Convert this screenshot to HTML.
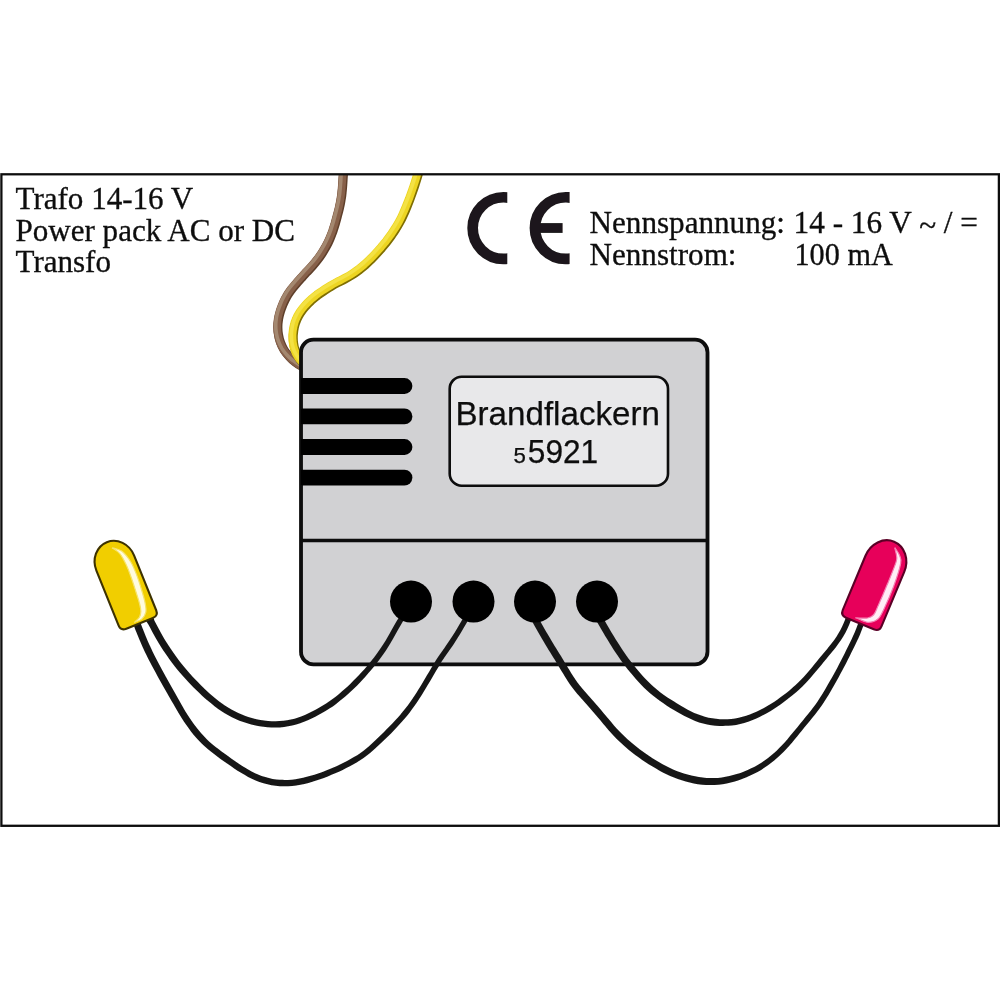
<!DOCTYPE html>
<html><head><meta charset="utf-8">
<style>
html,body{margin:0;padding:0;background:#fff;}
body{width:1000px;height:1000px;overflow:hidden;font-family:"Liberation Sans",sans-serif;}
svg{display:block;position:absolute;left:0;top:0;}
.serif{font-family:"Liberation Serif",serif;font-size:30.5px;fill:#0c0c0c;stroke:#0c0c0c;stroke-width:0.3px;}
.sans{font-family:"Liberation Sans",sans-serif;fill:#0c0c0c;stroke:#0c0c0c;stroke-width:0.25px;}
</style></head><body>
<svg width="1000" height="1000" viewBox="0 0 1000 1000">
<defs>
  <clipPath id="frameclip"><rect x="1" y="174" width="998" height="652"/></clipPath>
  <clipPath id="cclip"><rect x="460" y="185" width="47.3" height="90"/></clipPath>
  <clipPath id="eclip"><rect x="522" y="185" width="47.6" height="90"/></clipPath>
  <filter id="soft" filterUnits="userSpaceOnUse" x="0" y="0" width="1000" height="1000"><feGaussianBlur stdDeviation="0.45"/></filter>
</defs>
<rect width="1000" height="1000" fill="#ffffff"/>

<!-- frame -->


<!-- supply wires -->
<g clip-path="url(#frameclip)" fill="none" stroke-linecap="butt" filter="url(#soft)">
  <path d="M343.5 168.0 C343.3 169.3 342.8 173.3 342.5 176.0 C342.3 178.6 342.2 181.3 342.0 184.0 C341.8 186.7 341.6 189.3 341.3 192.0 C341.1 194.7 340.7 197.3 340.2 199.9 C339.8 202.6 339.2 205.2 338.6 207.8 C338.0 210.4 337.3 213.0 336.6 215.6 C335.9 218.2 335.2 220.8 334.5 223.3 C333.7 225.9 332.9 228.5 332.1 231.0 C331.2 233.5 330.2 236.0 329.1 238.5 C328.1 240.9 326.9 243.3 325.6 245.7 C324.3 248.0 323.0 250.3 321.5 252.6 C320.1 254.8 318.6 257.0 316.9 259.2 C315.3 261.3 313.6 263.3 311.8 265.3 C310.0 267.3 308.2 269.3 306.4 271.2 C304.6 273.2 302.7 275.2 301.0 277.2 C299.2 279.2 297.3 281.2 295.6 283.2 C293.9 285.2 292.1 287.2 290.5 289.4 C288.9 291.5 287.4 293.7 286.1 296.0 C284.7 298.3 283.6 300.8 282.5 303.2 C281.5 305.7 280.5 308.2 279.7 310.7 C279.0 313.3 278.2 315.9 277.8 318.5 C277.4 321.1 277.1 323.8 277.1 326.5 C277.1 329.1 277.3 331.8 277.8 334.4 C278.2 337.0 278.9 339.7 279.8 342.1 C280.7 344.6 281.9 347.0 283.2 349.3 C284.6 351.5 286.3 353.7 288.1 355.6 C289.9 357.6 291.8 359.5 293.9 361.1 C296.0 362.8 298.5 364.3 300.6 365.5 C302.6 366.6 305.1 367.6 306.0 368.0" stroke="#5f3f2b" stroke-width="9" transform="translate(0.8 0.6)"/>
  <path d="M343.5 168.0 C343.3 169.3 342.8 173.3 342.5 176.0 C342.3 178.6 342.2 181.3 342.0 184.0 C341.8 186.7 341.6 189.3 341.3 192.0 C341.1 194.7 340.7 197.3 340.2 199.9 C339.8 202.6 339.2 205.2 338.6 207.8 C338.0 210.4 337.3 213.0 336.6 215.6 C335.9 218.2 335.2 220.8 334.5 223.3 C333.7 225.9 332.9 228.5 332.1 231.0 C331.2 233.5 330.2 236.0 329.1 238.5 C328.1 240.9 326.9 243.3 325.6 245.7 C324.3 248.0 323.0 250.3 321.5 252.6 C320.1 254.8 318.6 257.0 316.9 259.2 C315.3 261.3 313.6 263.3 311.8 265.3 C310.0 267.3 308.2 269.3 306.4 271.2 C304.6 273.2 302.7 275.2 301.0 277.2 C299.2 279.2 297.3 281.2 295.6 283.2 C293.9 285.2 292.1 287.2 290.5 289.4 C288.9 291.5 287.4 293.7 286.1 296.0 C284.7 298.3 283.6 300.8 282.5 303.2 C281.5 305.7 280.5 308.2 279.7 310.7 C279.0 313.3 278.2 315.9 277.8 318.5 C277.4 321.1 277.1 323.8 277.1 326.5 C277.1 329.1 277.3 331.8 277.8 334.4 C278.2 337.0 278.9 339.7 279.8 342.1 C280.7 344.6 281.9 347.0 283.2 349.3 C284.6 351.5 286.3 353.7 288.1 355.6 C289.9 357.6 291.8 359.5 293.9 361.1 C296.0 362.8 298.5 364.3 300.6 365.5 C302.6 366.6 305.1 367.6 306.0 368.0" stroke="#87604a" stroke-width="7.8"/>
  <path d="M343.5 168.0 C343.3 169.3 342.8 173.3 342.5 176.0 C342.3 178.6 342.2 181.3 342.0 184.0 C341.8 186.7 341.6 189.3 341.3 192.0 C341.1 194.7 340.7 197.3 340.2 199.9 C339.8 202.6 339.2 205.2 338.6 207.8 C338.0 210.4 337.3 213.0 336.6 215.6 C335.9 218.2 335.2 220.8 334.5 223.3 C333.7 225.9 332.9 228.5 332.1 231.0 C331.2 233.5 330.2 236.0 329.1 238.5 C328.1 240.9 326.9 243.3 325.6 245.7 C324.3 248.0 323.0 250.3 321.5 252.6 C320.1 254.8 318.6 257.0 316.9 259.2 C315.3 261.3 313.6 263.3 311.8 265.3 C310.0 267.3 308.2 269.3 306.4 271.2 C304.6 273.2 302.7 275.2 301.0 277.2 C299.2 279.2 297.3 281.2 295.6 283.2 C293.9 285.2 292.1 287.2 290.5 289.4 C288.9 291.5 287.4 293.7 286.1 296.0 C284.7 298.3 283.6 300.8 282.5 303.2 C281.5 305.7 280.5 308.2 279.7 310.7 C279.0 313.3 278.2 315.9 277.8 318.5 C277.4 321.1 277.1 323.8 277.1 326.5 C277.1 329.1 277.3 331.8 277.8 334.4 C278.2 337.0 278.9 339.7 279.8 342.1 C280.7 344.6 281.9 347.0 283.2 349.3 C284.6 351.5 286.3 353.7 288.1 355.6 C289.9 357.6 291.8 359.5 293.9 361.1 C296.0 362.8 298.5 364.3 300.6 365.5 C302.6 366.6 305.1 367.6 306.0 368.0" stroke="#a48870" stroke-width="3.6" transform="translate(-1.4 -0.9)"/>
  <path d="M419.0 168.0 C418.6 169.3 417.5 173.2 416.7 175.7 C416.0 178.3 415.1 180.9 414.3 183.4 C413.5 186.0 412.6 188.5 411.7 191.0 C410.8 193.6 409.9 196.1 409.0 198.6 C408.0 201.1 407.0 203.6 406.0 206.1 C405.0 208.6 404.0 211.1 402.8 213.5 C401.7 216.0 400.6 218.4 399.3 220.7 C398.0 223.1 396.7 225.4 395.2 227.7 C393.8 230.0 392.3 232.2 390.8 234.4 C389.2 236.6 387.6 238.8 386.0 240.9 C384.3 243.0 382.6 245.0 380.9 247.1 C379.1 249.1 377.3 251.1 375.5 253.1 C373.7 255.1 371.9 257.0 370.0 258.9 C368.0 260.8 366.1 262.6 364.1 264.4 C362.0 266.2 359.9 267.8 357.8 269.5 C355.7 271.1 353.5 272.7 351.2 274.1 C349.0 275.5 346.6 276.8 344.2 278.1 C341.9 279.4 339.4 280.5 337.1 281.7 C334.7 283.0 332.4 284.3 330.0 285.7 C327.7 287.0 325.5 288.5 323.2 290.0 C321.0 291.4 318.7 292.9 316.6 294.5 C314.5 296.2 312.4 297.8 310.4 299.7 C308.4 301.5 306.5 303.4 304.8 305.4 C303.0 307.4 301.3 309.5 299.8 311.7 C298.4 313.9 297.0 316.3 296.0 318.7 C294.9 321.1 294.1 323.7 293.5 326.3 C292.9 328.9 292.6 331.6 292.4 334.2 C292.3 336.9 292.4 339.6 292.7 342.2 C293.0 344.9 293.6 347.5 294.5 350.0 C295.3 352.5 296.5 354.9 298.0 357.1 C299.4 359.3 301.8 361.7 303.1 363.2 C304.4 364.7 305.5 365.5 306.0 366.0" stroke="#7f6e04" stroke-width="9" transform="translate(0.9 0.9)"/>
  <path d="M419.0 168.0 C418.6 169.3 417.5 173.2 416.7 175.7 C416.0 178.3 415.1 180.9 414.3 183.4 C413.5 186.0 412.6 188.5 411.7 191.0 C410.8 193.6 409.9 196.1 409.0 198.6 C408.0 201.1 407.0 203.6 406.0 206.1 C405.0 208.6 404.0 211.1 402.8 213.5 C401.7 216.0 400.6 218.4 399.3 220.7 C398.0 223.1 396.7 225.4 395.2 227.7 C393.8 230.0 392.3 232.2 390.8 234.4 C389.2 236.6 387.6 238.8 386.0 240.9 C384.3 243.0 382.6 245.0 380.9 247.1 C379.1 249.1 377.3 251.1 375.5 253.1 C373.7 255.1 371.9 257.0 370.0 258.9 C368.0 260.8 366.1 262.6 364.1 264.4 C362.0 266.2 359.9 267.8 357.8 269.5 C355.7 271.1 353.5 272.7 351.2 274.1 C349.0 275.5 346.6 276.8 344.2 278.1 C341.9 279.4 339.4 280.5 337.1 281.7 C334.7 283.0 332.4 284.3 330.0 285.7 C327.7 287.0 325.5 288.5 323.2 290.0 C321.0 291.4 318.7 292.9 316.6 294.5 C314.5 296.2 312.4 297.8 310.4 299.7 C308.4 301.5 306.5 303.4 304.8 305.4 C303.0 307.4 301.3 309.5 299.8 311.7 C298.4 313.9 297.0 316.3 296.0 318.7 C294.9 321.1 294.1 323.7 293.5 326.3 C292.9 328.9 292.6 331.6 292.4 334.2 C292.3 336.9 292.4 339.6 292.7 342.2 C293.0 344.9 293.6 347.5 294.5 350.0 C295.3 352.5 296.5 354.9 298.0 357.1 C299.4 359.3 301.8 361.7 303.1 363.2 C304.4 364.7 305.5 365.5 306.0 366.0" stroke="#edd524" stroke-width="8"/>
  <path d="M419.0 168.0 C418.6 169.3 417.5 173.2 416.7 175.7 C416.0 178.3 415.1 180.9 414.3 183.4 C413.5 186.0 412.6 188.5 411.7 191.0 C410.8 193.6 409.9 196.1 409.0 198.6 C408.0 201.1 407.0 203.6 406.0 206.1 C405.0 208.6 404.0 211.1 402.8 213.5 C401.7 216.0 400.6 218.4 399.3 220.7 C398.0 223.1 396.7 225.4 395.2 227.7 C393.8 230.0 392.3 232.2 390.8 234.4 C389.2 236.6 387.6 238.8 386.0 240.9 C384.3 243.0 382.6 245.0 380.9 247.1 C379.1 249.1 377.3 251.1 375.5 253.1 C373.7 255.1 371.9 257.0 370.0 258.9 C368.0 260.8 366.1 262.6 364.1 264.4 C362.0 266.2 359.9 267.8 357.8 269.5 C355.7 271.1 353.5 272.7 351.2 274.1 C349.0 275.5 346.6 276.8 344.2 278.1 C341.9 279.4 339.4 280.5 337.1 281.7 C334.7 283.0 332.4 284.3 330.0 285.7 C327.7 287.0 325.5 288.5 323.2 290.0 C321.0 291.4 318.7 292.9 316.6 294.5 C314.5 296.2 312.4 297.8 310.4 299.7 C308.4 301.5 306.5 303.4 304.8 305.4 C303.0 307.4 301.3 309.5 299.8 311.7 C298.4 313.9 297.0 316.3 296.0 318.7 C294.9 321.1 294.1 323.7 293.5 326.3 C292.9 328.9 292.6 331.6 292.4 334.2 C292.3 336.9 292.4 339.6 292.7 342.2 C293.0 344.9 293.6 347.5 294.5 350.0 C295.3 352.5 296.5 354.9 298.0 357.1 C299.4 359.3 301.8 361.7 303.1 363.2 C304.4 364.7 305.5 365.5 306.0 366.0" stroke="#f4e244" stroke-width="3.6" transform="translate(-1 -1.1)"/>
</g>
<rect x="1.4" y="174.3" width="997.5" height="651.5" fill="none" stroke="#111" stroke-width="2.3" filter="url(#soft)"/>

<!-- module box -->
<g filter="url(#soft)">
<rect x="301" y="339.7" width="406.5" height="324.6" rx="12.5" ry="12.5" fill="#d1d1d3" stroke="#0a0a0a" stroke-width="3.8"/>
<line x1="301" y1="540.5" x2="707.5" y2="540.5" stroke="#0a0a0a" stroke-width="3.6"/>
<!-- vents -->
<g fill="#050505">
  <path d="M301 378.1 H404.5 a7.9 7.9 0 0 1 0 15.8 H301 Z"/>
  <path d="M301 408.5 H404.5 a7.9 7.9 0 0 1 0 15.8 H301 Z"/>
  <path d="M301 439.1 H404.5 a7.9 7.9 0 0 1 0 15.8 H301 Z"/>
  <path d="M301 469.7 H404.5 a7.9 7.9 0 0 1 0 15.8 H301 Z"/>
</g>
<!-- label -->
<rect x="449.7" y="376.7" width="218.3" height="109" rx="12" ry="12" fill="#e8e8ea" stroke="#0a0a0a" stroke-width="2.6"/>
</g>
<g filter="url(#soft)">
<text class="sans" x="557.7" y="424.5" font-size="34" text-anchor="middle" textLength="204.5" lengthAdjust="spacingAndGlyphs">Brandflackern</text>
<text class="sans" x="513.6" y="462.5" font-size="22.3">5</text>
<text class="sans" x="527.8" y="462.9" font-size="34" textLength="70.4" lengthAdjust="spacingAndGlyphs">5921</text>
</g>

<!-- LED wires -->
<g fill="#171717" stroke="none" filter="url(#soft)">
  <path d="M410.82 599.99 C410.06 601.08 407.75 604.36 406.22 606.57 C404.70 608.78 403.16 610.98 401.67 613.24 C400.19 615.49 398.71 617.77 397.31 620.08 C395.91 622.38 394.59 624.75 393.27 627.08 C391.94 629.42 390.70 631.77 389.38 634.08 C388.06 636.38 386.74 638.66 385.37 640.91 C383.99 643.16 382.57 645.38 381.10 647.57 C379.64 649.76 378.14 651.92 376.59 654.05 C375.04 656.17 373.44 658.27 371.81 660.33 C370.17 662.39 368.49 664.42 366.77 666.42 C365.05 668.42 363.30 670.40 361.51 672.34 C359.73 674.29 357.92 676.22 356.08 678.12 C354.24 680.01 352.38 681.89 350.48 683.72 C348.59 685.55 346.67 687.36 344.71 689.12 C342.75 690.87 340.76 692.60 338.74 694.26 C336.71 695.92 334.65 697.55 332.55 699.10 C330.45 700.65 328.31 702.14 326.12 703.56 C323.93 704.98 321.70 706.32 319.43 707.61 C317.16 708.91 314.84 710.14 312.50 711.31 C310.17 712.48 307.80 713.62 305.42 714.64 C303.04 715.67 300.64 716.65 298.21 717.47 C295.78 718.29 293.33 719.01 290.84 719.57 C288.36 720.13 285.84 720.56 283.31 720.85 C280.79 721.14 278.24 721.30 275.70 721.32 C273.15 721.33 270.59 721.18 268.04 720.94 C265.48 720.71 262.90 720.35 260.37 719.91 C257.83 719.47 255.29 718.95 252.81 718.30 C250.32 717.66 247.87 716.90 245.45 716.03 C243.04 715.16 240.65 714.18 238.32 713.10 C235.98 712.03 233.68 710.86 231.44 709.60 C229.20 708.33 227.01 706.96 224.87 705.52 C222.73 704.07 220.64 702.52 218.58 700.92 C216.53 699.33 214.51 697.65 212.51 695.95 C210.52 694.24 208.55 692.49 206.62 690.71 C204.68 688.92 202.77 687.10 200.90 685.26 C199.02 683.41 197.17 681.53 195.36 679.62 C193.55 677.71 191.76 675.78 190.01 673.81 C188.26 671.84 186.54 669.85 184.86 667.82 C183.18 665.80 181.54 663.74 179.93 661.66 C178.32 659.58 176.75 657.47 175.21 655.33 C173.68 653.20 172.17 651.03 170.71 648.85 C169.25 646.66 167.81 644.45 166.43 642.22 C165.04 639.99 163.70 637.73 162.40 635.44 C161.09 633.16 159.85 630.83 158.59 628.50 C157.34 626.16 156.12 623.80 154.88 621.44 C153.65 619.08 152.87 614.96 151.19 614.33 C149.51 613.70 145.25 615.93 144.81 617.67 C144.37 619.41 147.29 622.40 148.55 624.77 C149.80 627.14 151.04 629.51 152.33 631.88 C153.62 634.25 154.91 636.63 156.26 638.97 C157.62 641.31 159.02 643.65 160.46 645.94 C161.90 648.24 163.39 650.51 164.91 652.75 C166.43 655.00 167.99 657.22 169.58 659.41 C171.17 661.60 172.80 663.77 174.47 665.90 C176.14 668.04 177.85 670.15 179.59 672.22 C181.33 674.30 183.11 676.34 184.92 678.36 C186.73 680.37 188.58 682.36 190.45 684.31 C192.33 686.26 194.24 688.19 196.18 690.08 C198.12 691.97 200.09 693.83 202.09 695.65 C204.09 697.48 206.12 699.27 208.20 701.03 C210.28 702.78 212.38 704.51 214.54 706.17 C216.71 707.83 218.92 709.46 221.20 710.98 C223.49 712.51 225.84 713.96 228.24 715.30 C230.64 716.64 233.11 717.88 235.62 719.02 C238.13 720.15 240.69 721.20 243.29 722.11 C245.89 723.03 248.54 723.84 251.21 724.52 C253.88 725.20 256.58 725.74 259.30 726.19 C262.01 726.65 264.74 727.01 267.48 727.25 C270.22 727.48 272.99 727.64 275.75 727.61 C278.51 727.58 281.30 727.39 284.05 727.06 C286.79 726.73 289.54 726.24 292.23 725.62 C294.93 725.00 297.60 724.20 300.20 723.31 C302.80 722.42 305.35 721.36 307.86 720.26 C310.36 719.17 312.81 717.97 315.24 716.74 C317.67 715.51 320.07 714.22 322.43 712.86 C324.79 711.50 327.12 710.08 329.40 708.58 C331.68 707.09 333.92 705.51 336.10 703.89 C338.28 702.26 340.41 700.56 342.51 698.83 C344.60 697.09 346.64 695.30 348.65 693.48 C350.65 691.66 352.62 689.80 354.55 687.90 C356.48 686.01 358.38 684.09 360.25 682.14 C362.12 680.19 363.96 678.22 365.77 676.22 C367.58 674.21 369.37 672.19 371.12 670.12 C372.87 668.06 374.59 665.97 376.26 663.84 C377.93 661.71 379.57 659.55 381.15 657.35 C382.73 655.15 384.27 652.92 385.76 650.66 C387.25 648.40 388.70 646.11 390.10 643.80 C391.50 641.49 392.85 639.14 394.17 636.80 C395.49 634.46 396.73 632.08 398.03 629.76 C399.33 627.44 400.60 625.14 401.96 622.88 C403.31 620.62 404.73 618.40 406.17 616.19 C407.62 613.97 409.12 611.79 410.63 609.59 C412.13 607.40 414.42 604.11 415.18 603.01 Z"/>
  <path d="M473.73 600.64 C473.04 601.78 470.97 605.21 469.59 607.50 C468.21 609.79 466.83 612.08 465.45 614.37 C464.08 616.67 462.70 618.96 461.33 621.25 C459.96 623.55 458.60 625.85 457.23 628.13 C455.86 630.41 454.50 632.70 453.10 634.94 C451.69 637.18 450.27 639.40 448.80 641.60 C447.32 643.80 445.78 645.94 444.25 648.13 C442.72 650.32 441.13 652.49 439.62 654.71 C438.10 656.94 436.61 659.21 435.17 661.49 C433.74 663.78 432.38 666.11 431.01 668.42 C429.64 670.73 428.32 673.05 426.96 675.35 C425.60 677.64 424.25 679.93 422.87 682.21 C421.50 684.49 420.13 686.77 418.73 689.03 C417.33 691.29 415.94 693.54 414.49 695.75 C413.05 697.96 411.59 700.14 410.06 702.28 C408.54 704.42 406.96 706.52 405.34 708.58 C403.72 710.65 402.03 712.67 400.32 714.67 C398.61 716.67 396.84 718.64 395.06 720.59 C393.28 722.54 391.47 724.46 389.62 726.36 C387.78 728.26 385.91 730.13 384.02 731.99 C382.13 733.85 380.21 735.69 378.29 737.52 C376.37 739.35 374.44 741.18 372.49 742.96 C370.54 744.73 368.60 746.50 366.60 748.16 C364.59 749.81 362.56 751.41 360.44 752.90 C358.33 754.39 356.15 755.78 353.92 757.12 C351.69 758.46 349.39 759.71 347.07 760.93 C344.75 762.16 342.39 763.33 340.02 764.46 C337.64 765.59 335.24 766.67 332.82 767.71 C330.40 768.75 327.96 769.74 325.51 770.69 C323.05 771.64 320.58 772.56 318.09 773.42 C315.61 774.28 313.11 775.11 310.61 775.85 C308.11 776.59 305.61 777.30 303.09 777.86 C300.57 778.43 298.03 778.91 295.49 779.25 C292.95 779.60 290.39 779.84 287.84 779.94 C285.29 780.04 282.73 780.03 280.20 779.86 C277.67 779.69 275.14 779.37 272.65 778.91 C270.15 778.46 267.67 777.86 265.24 777.12 C262.81 776.39 260.41 775.52 258.06 774.53 C255.71 773.53 253.41 772.39 251.13 771.18 C248.85 769.96 246.62 768.62 244.39 767.25 C242.17 765.88 239.97 764.42 237.77 762.96 C235.58 761.49 233.39 759.99 231.22 758.47 C229.05 756.95 226.89 755.42 224.76 753.85 C222.63 752.29 220.50 750.71 218.43 749.09 C216.35 747.48 214.27 745.86 212.29 744.18 C210.30 742.49 208.36 740.79 206.52 738.99 C204.67 737.18 202.91 735.31 201.21 733.36 C199.51 731.42 197.89 729.38 196.31 727.31 C194.72 725.25 193.19 723.11 191.70 720.96 C190.21 718.81 188.77 716.62 187.36 714.40 C185.96 712.18 184.61 709.92 183.28 707.64 C181.94 705.36 180.65 703.04 179.34 700.72 C178.03 698.41 176.72 696.07 175.41 693.74 C174.09 691.41 172.77 689.09 171.45 686.77 C170.14 684.44 168.82 682.13 167.52 679.80 C166.22 677.48 164.93 675.15 163.66 672.82 C162.38 670.48 161.12 668.14 159.87 665.80 C158.62 663.45 157.38 661.11 156.18 658.75 C154.97 656.39 153.79 654.03 152.64 651.65 C151.49 649.27 150.38 646.88 149.30 644.47 C148.22 642.06 147.17 639.64 146.14 637.20 C145.12 634.76 144.13 632.32 143.17 629.86 C142.21 627.39 141.18 624.60 140.38 622.42 C139.59 620.25 139.85 617.33 138.39 616.79 C136.93 616.25 132.40 617.86 131.61 619.21 C130.82 620.56 132.84 622.69 133.66 624.90 C134.47 627.11 135.53 629.95 136.52 632.46 C137.51 634.97 138.54 637.48 139.59 639.96 C140.65 642.45 141.73 644.93 142.84 647.39 C143.96 649.84 145.11 652.29 146.29 654.72 C147.48 657.15 148.70 659.56 149.93 661.95 C151.17 664.35 152.43 666.72 153.70 669.09 C154.97 671.46 156.26 673.82 157.55 676.17 C158.85 678.52 160.16 680.86 161.48 683.19 C162.79 685.53 164.13 687.85 165.45 690.18 C166.78 692.50 168.11 694.81 169.43 697.13 C170.75 699.45 172.06 701.78 173.39 704.11 C174.72 706.43 176.03 708.78 177.40 711.10 C178.78 713.42 180.18 715.75 181.64 718.04 C183.09 720.33 184.60 722.59 186.16 724.82 C187.72 727.05 189.31 729.26 190.98 731.42 C192.65 733.58 194.37 735.72 196.18 737.78 C198.00 739.84 199.90 741.85 201.87 743.76 C203.84 745.67 205.92 747.49 208.00 749.24 C210.09 751.00 212.24 752.67 214.39 754.32 C216.53 755.97 218.70 757.58 220.88 759.16 C223.06 760.75 225.26 762.30 227.48 763.84 C229.69 765.38 231.91 766.90 234.17 768.39 C236.42 769.88 238.68 771.37 241.00 772.78 C243.33 774.20 245.68 775.61 248.11 776.88 C250.54 778.16 253.03 779.39 255.58 780.45 C258.13 781.52 260.75 782.47 263.41 783.26 C266.06 784.04 268.78 784.69 271.51 785.18 C274.24 785.67 277.02 786.00 279.78 786.18 C282.55 786.36 285.34 786.36 288.10 786.24 C290.86 786.13 293.62 785.85 296.35 785.47 C299.08 785.09 301.79 784.57 304.47 783.96 C307.14 783.35 309.78 782.60 312.39 781.81 C315.00 781.03 317.57 780.16 320.13 779.26 C322.69 778.37 325.22 777.42 327.75 776.43 C330.27 775.44 332.77 774.41 335.25 773.33 C337.74 772.26 340.20 771.14 342.65 769.96 C345.09 768.79 347.52 767.58 349.91 766.30 C352.31 765.02 354.70 763.71 357.04 762.29 C359.37 760.88 361.69 759.39 363.92 757.80 C366.15 756.22 368.31 754.51 370.41 752.76 C372.51 751.02 374.51 749.18 376.51 747.35 C378.50 745.53 380.44 743.67 382.38 741.80 C384.32 739.94 386.25 738.08 388.16 736.18 C390.07 734.28 391.98 732.37 393.84 730.43 C395.71 728.49 397.56 726.52 399.37 724.52 C401.19 722.52 402.98 720.50 404.74 718.44 C406.49 716.37 408.22 714.28 409.89 712.14 C411.56 710.01 413.18 707.82 414.74 705.61 C416.31 703.40 417.81 701.13 419.28 698.87 C420.75 696.60 422.16 694.31 423.57 692.02 C424.98 689.72 426.35 687.42 427.73 685.12 C429.10 682.82 430.46 680.50 431.81 678.20 C433.16 675.89 434.48 673.56 435.83 671.27 C437.18 668.98 438.50 666.69 439.89 664.45 C441.29 662.20 442.72 660.01 444.20 657.82 C445.68 655.62 447.25 653.48 448.77 651.28 C450.29 649.08 451.86 646.88 453.35 644.64 C454.84 642.40 456.30 640.11 457.72 637.83 C459.14 635.54 460.51 633.22 461.88 630.92 C463.25 628.62 464.60 626.31 465.96 624.01 C467.33 621.71 468.69 619.42 470.05 617.12 C471.42 614.83 472.79 612.54 474.16 610.24 C475.53 607.95 477.59 604.51 478.27 603.36 Z"/>
  <path d="M522.81 603.67 C523.43 604.85 525.28 608.41 526.52 610.78 C527.76 613.15 529.00 615.52 530.27 617.89 C531.53 620.26 532.80 622.63 534.10 624.98 C535.40 627.34 536.72 629.69 538.06 632.02 C539.39 634.35 540.75 636.67 542.12 638.99 C543.48 641.30 544.86 643.60 546.25 645.89 C547.63 648.19 549.03 650.47 550.43 652.76 C551.83 655.04 553.23 657.31 554.63 659.59 C556.02 661.86 557.41 664.13 558.80 666.41 C560.18 668.69 561.53 670.99 562.93 673.29 C564.33 675.58 565.71 677.91 567.20 680.19 C568.69 682.47 570.23 684.76 571.85 686.96 C573.48 689.16 575.22 691.30 576.96 693.38 C578.70 695.47 580.53 697.46 582.30 699.48 C584.07 701.49 585.84 703.47 587.59 705.47 C589.34 707.48 591.06 709.50 592.79 711.52 C594.52 713.55 596.23 715.58 597.95 717.62 C599.68 719.67 601.38 721.72 603.12 723.77 C604.86 725.81 606.59 727.88 608.39 729.91 C610.18 731.93 612.01 733.95 613.90 735.91 C615.78 737.88 617.71 739.80 619.69 741.68 C621.66 743.56 623.68 745.39 625.74 747.17 C627.79 748.96 629.89 750.69 632.02 752.38 C634.15 754.07 636.32 755.72 638.51 757.32 C640.71 758.93 642.94 760.49 645.21 762.00 C647.47 763.50 649.77 764.96 652.10 766.37 C654.42 767.78 656.78 769.14 659.17 770.45 C661.56 771.76 663.97 773.05 666.43 774.24 C668.90 775.42 671.41 776.57 673.97 777.59 C676.52 778.61 679.13 779.53 681.76 780.35 C684.38 781.18 687.04 781.91 689.72 782.54 C692.40 783.17 695.11 783.74 697.85 784.15 C700.58 784.56 703.35 784.85 706.12 784.99 C708.88 785.13 711.68 785.13 714.45 785.00 C717.22 784.86 719.99 784.58 722.72 784.17 C725.46 783.77 728.18 783.22 730.86 782.57 C733.54 781.92 736.19 781.14 738.80 780.27 C741.41 779.40 743.98 778.41 746.51 777.35 C749.04 776.28 751.52 775.11 753.97 773.87 C756.41 772.62 758.81 771.30 761.15 769.88 C763.50 768.46 765.80 766.94 768.02 765.35 C770.25 763.75 772.41 762.05 774.50 760.29 C776.60 758.54 778.62 756.69 780.59 754.81 C782.56 752.93 784.48 750.99 786.34 749.01 C788.20 747.03 790.00 744.99 791.76 742.95 C793.53 740.90 795.22 738.81 796.93 736.74 C798.64 734.66 800.31 732.58 801.99 730.51 C803.68 728.44 805.37 726.38 807.06 724.30 C808.75 722.23 810.46 720.17 812.14 718.07 C813.82 715.97 815.51 713.87 817.14 711.72 C818.78 709.57 820.40 707.39 821.95 705.16 C823.49 702.93 824.98 700.65 826.42 698.36 C827.85 696.06 829.21 693.72 830.56 691.40 C831.92 689.08 833.23 686.74 834.56 684.41 C835.88 682.08 837.20 679.75 838.50 677.40 C839.80 675.06 841.09 672.70 842.36 670.33 C843.63 667.97 844.88 665.58 846.11 663.20 C847.33 660.81 848.54 658.41 849.74 656.01 C850.94 653.61 852.12 651.21 853.29 648.80 C854.47 646.39 855.65 643.98 856.79 641.53 C857.93 639.09 859.07 636.63 860.13 634.14 C861.18 631.64 862.17 629.10 863.10 626.56 C864.03 624.02 866.16 620.50 865.70 618.92 C865.23 617.34 861.63 616.14 860.30 617.08 C858.98 618.03 858.65 622.13 857.75 624.60 C856.84 627.08 855.89 629.50 854.87 631.92 C853.85 634.34 852.74 636.73 851.62 639.13 C850.50 641.52 849.33 643.91 848.17 646.30 C847.00 648.69 845.83 651.09 844.64 653.47 C843.45 655.85 842.26 658.22 841.04 660.59 C839.82 662.95 838.59 665.30 837.34 667.64 C836.08 669.98 834.80 672.31 833.51 674.64 C832.22 676.96 830.91 679.28 829.60 681.60 C828.28 683.91 826.98 686.24 825.64 688.53 C824.30 690.82 822.98 693.10 821.58 695.33 C820.19 697.56 818.76 699.75 817.26 701.91 C815.77 704.07 814.20 706.17 812.61 708.27 C811.01 710.37 809.35 712.43 807.69 714.51 C806.03 716.58 804.33 718.63 802.65 720.70 C800.96 722.77 799.26 724.84 797.58 726.91 C795.89 728.98 794.22 731.06 792.53 733.12 C790.84 735.17 789.17 737.23 787.45 739.22 C785.72 741.22 783.99 743.20 782.19 745.10 C780.40 747.00 778.56 748.87 776.66 750.65 C774.75 752.43 772.79 754.15 770.78 755.79 C768.77 757.43 766.71 759.01 764.58 760.48 C762.46 761.96 760.27 763.35 758.04 764.65 C755.81 765.96 753.51 767.17 751.19 768.31 C748.86 769.45 746.49 770.51 744.09 771.47 C741.69 772.44 739.26 773.32 736.80 774.09 C734.34 774.87 731.85 775.55 729.35 776.11 C726.85 776.67 724.32 777.13 721.79 777.46 C719.26 777.78 716.71 777.99 714.17 778.07 C711.63 778.15 709.08 778.10 706.54 777.92 C704.00 777.75 701.46 777.43 698.94 777.03 C696.41 776.63 693.88 776.12 691.38 775.53 C688.87 774.94 686.37 774.26 683.92 773.48 C681.46 772.71 679.03 771.86 676.64 770.90 C674.25 769.94 671.90 768.88 669.56 767.75 C667.23 766.62 664.92 765.39 662.63 764.14 C660.34 762.88 658.07 761.57 655.83 760.21 C653.59 758.86 651.38 757.45 649.20 756.00 C647.02 754.55 644.87 753.05 642.76 751.51 C640.64 749.96 638.55 748.37 636.50 746.75 C634.45 745.12 632.43 743.45 630.46 741.73 C628.48 740.02 626.54 738.26 624.65 736.46 C622.75 734.66 620.90 732.82 619.09 730.93 C617.28 729.04 615.52 727.10 613.77 725.13 C612.03 723.16 610.33 721.13 608.61 719.11 C606.89 717.08 605.18 715.03 603.46 712.98 C601.74 710.94 600.01 708.89 598.27 706.85 C596.53 704.81 594.78 702.76 593.02 700.74 C591.26 698.72 589.46 696.72 587.71 694.72 C585.95 692.73 584.17 690.78 582.49 688.77 C580.81 686.76 579.18 684.76 577.64 682.68 C576.10 680.59 574.66 678.45 573.23 676.26 C571.81 674.07 570.46 671.80 569.08 669.54 C567.70 667.27 566.34 664.96 564.95 662.68 C563.57 660.39 562.17 658.10 560.77 655.82 C559.37 653.54 557.96 651.27 556.57 649.00 C555.18 646.72 553.79 644.45 552.41 642.17 C551.04 639.89 549.67 637.61 548.32 635.32 C546.97 633.04 545.62 630.75 544.31 628.44 C542.99 626.14 541.69 623.83 540.41 621.51 C539.13 619.18 537.87 616.85 536.62 614.50 C535.37 612.16 534.13 609.80 532.90 607.43 C531.66 605.07 529.81 601.52 529.19 600.33 Z"/>
  <path d="M586.90 604.83 C587.58 605.98 589.61 609.42 590.97 611.72 C592.32 614.02 593.68 616.31 595.03 618.61 C596.39 620.90 597.74 623.20 599.09 625.50 C600.44 627.80 601.78 630.10 603.14 632.41 C604.50 634.71 605.86 637.02 607.25 639.32 C608.65 641.61 610.06 643.90 611.50 646.18 C612.94 648.45 614.39 650.72 615.89 652.96 C617.39 655.21 618.91 657.45 620.48 659.65 C622.05 661.85 623.66 664.03 625.31 666.18 C626.96 668.33 628.65 670.44 630.37 672.53 C632.09 674.62 633.83 676.69 635.63 678.72 C637.43 680.75 639.26 682.77 641.16 684.72 C643.06 686.67 645.01 688.59 647.01 690.44 C649.02 692.30 651.07 694.10 653.18 695.84 C655.30 697.58 657.47 699.26 659.69 700.86 C661.90 702.45 664.19 703.95 666.48 705.42 C668.76 706.88 671.07 708.27 673.39 709.66 C675.70 711.05 678.01 712.43 680.38 713.75 C682.75 715.08 685.14 716.40 687.61 717.60 C690.07 718.80 692.58 719.98 695.16 720.98 C697.73 721.98 700.39 722.90 703.07 723.61 C705.76 724.32 708.52 724.85 711.27 725.24 C714.02 725.63 716.80 725.85 719.56 725.96 C722.33 726.06 725.11 726.04 727.87 725.87 C730.64 725.69 733.41 725.38 736.14 724.90 C738.86 724.42 741.58 723.76 744.23 722.99 C746.88 722.22 749.48 721.29 752.04 720.29 C754.59 719.28 757.09 718.15 759.55 716.96 C762.01 715.77 764.42 714.49 766.78 713.15 C769.15 711.81 771.48 710.40 773.77 708.94 C776.05 707.48 778.30 705.96 780.51 704.40 C782.73 702.84 784.91 701.23 787.06 699.58 C789.20 697.93 791.31 696.24 793.39 694.50 C795.46 692.75 797.51 690.97 799.49 689.13 C801.48 687.28 803.43 685.38 805.32 683.44 C807.20 681.49 809.02 679.48 810.81 677.46 C812.60 675.44 814.33 673.37 816.05 671.32 C817.78 669.26 819.46 667.19 821.16 665.13 C822.86 663.07 824.55 661.02 826.25 658.96 C827.95 656.91 829.67 654.87 831.37 652.78 C833.06 650.70 834.78 648.63 836.42 646.47 C838.07 644.31 839.71 642.12 841.21 639.84 C842.71 637.56 844.14 635.19 845.43 632.78 C846.72 630.37 847.88 627.86 848.95 625.35 C850.03 622.85 851.15 619.67 851.86 617.77 C852.57 615.86 853.87 614.89 853.19 613.94 C852.52 612.99 848.92 611.76 847.81 612.06 C846.70 612.37 847.20 613.94 846.51 615.78 C845.83 617.63 844.73 620.73 843.71 623.11 C842.70 625.50 841.62 627.83 840.41 630.09 C839.19 632.36 837.87 634.55 836.45 636.71 C835.03 638.86 833.47 640.94 831.89 643.02 C830.31 645.10 828.62 647.13 826.95 649.18 C825.27 651.24 823.56 653.28 821.86 655.33 C820.16 657.39 818.46 659.45 816.77 661.50 C815.07 663.56 813.39 665.62 811.69 667.65 C809.98 669.68 808.29 671.71 806.54 673.68 C804.80 675.65 803.04 677.59 801.22 679.47 C799.40 681.35 797.54 683.17 795.62 684.95 C793.70 686.72 791.72 688.45 789.72 690.13 C787.71 691.82 785.67 693.47 783.59 695.06 C781.51 696.66 779.39 698.22 777.24 699.70 C775.09 701.19 772.89 702.62 770.66 703.99 C768.44 705.36 766.18 706.68 763.89 707.92 C761.60 709.16 759.28 710.35 756.93 711.44 C754.58 712.53 752.20 713.56 749.80 714.46 C747.39 715.36 744.95 716.18 742.50 716.84 C740.04 717.51 737.56 718.06 735.07 718.46 C732.57 718.85 730.04 719.08 727.51 719.19 C724.98 719.31 722.41 719.27 719.88 719.13 C717.35 718.99 714.80 718.74 712.31 718.34 C709.82 717.94 707.36 717.41 704.94 716.73 C702.52 716.05 700.14 715.21 697.78 714.28 C695.42 713.34 693.09 712.27 690.77 711.13 C688.46 710.00 686.17 708.74 683.89 707.47 C681.61 706.19 679.34 704.83 677.09 703.48 C674.84 702.13 672.57 700.77 670.37 699.36 C668.17 697.95 666.00 696.53 663.90 695.01 C661.79 693.50 659.75 691.92 657.76 690.28 C655.76 688.63 653.80 686.92 651.90 685.16 C649.99 683.39 648.14 681.57 646.33 679.71 C644.51 677.84 642.76 675.91 641.02 673.95 C639.29 671.99 637.59 669.98 635.93 667.96 C634.26 665.93 632.62 663.88 631.02 661.80 C629.42 659.72 627.87 657.61 626.34 655.47 C624.82 653.33 623.34 651.16 621.88 648.97 C620.42 646.78 618.99 644.56 617.58 642.33 C616.17 640.10 614.78 637.85 613.41 635.58 C612.03 633.32 610.69 631.03 609.34 628.74 C607.99 626.46 606.65 624.15 605.29 621.85 C603.94 619.55 602.59 617.25 601.24 614.95 C599.88 612.65 598.52 610.36 597.17 608.06 C595.81 605.76 593.78 602.32 593.10 601.17 Z"/>
</g>

<g filter="url(#soft)">
<!-- sockets -->
<circle cx="411" cy="601.6" r="21" fill="#050505"/>
<circle cx="473.5" cy="601.6" r="21" fill="#050505"/>
<circle cx="535" cy="601.6" r="21" fill="#050505"/>
<circle cx="597" cy="601.6" r="21" fill="#050505"/>
</g>

<!-- yellow LED -->
<g filter="url(#soft)"><g transform="translate(123.2 582.8) rotate(-22)">
  <path d="M-20.30 -21.30 A20.30 22.50 0 0 1 20.30 -21.30 L20.30 37.80 Q20.30 43.80 14.30 43.80 L-14.30 43.80 Q-20.30 43.80 -20.30 37.80 Z" fill="#f1ce00" stroke="#3e3300" stroke-width="2.1"/>
  <path d="M3.08 -36.10 C3.86 -34.81 6.67 -31.77 7.74 -28.35 C8.81 -24.93 9.24 -20.03 9.52 -15.59 C9.80 -11.14 9.57 -6.28 9.40 -1.67 C9.23 2.93 8.85 7.52 8.51 12.05 C8.17 16.59 7.82 22.00 7.34 25.54 C6.85 29.08 6.48 31.22 5.61 33.30 C4.73 35.37 3.61 36.79 2.09 37.98 C0.56 39.17 -2.60 39.99 -3.53 40.45 C-4.46 40.91 -4.64 40.72 -3.47 40.75 C-2.30 40.77 1.27 41.46 3.51 40.62 C5.76 39.78 8.43 38.06 9.99 35.70 C11.55 33.34 12.11 30.32 12.86 26.46 C13.61 22.60 14.07 17.21 14.49 12.55 C14.91 7.88 15.33 3.27 15.40 -1.53 C15.46 -6.32 15.67 -11.53 14.88 -16.21 C14.09 -20.90 12.59 -26.30 10.66 -29.65 C8.73 -33.00 4.54 -35.19 3.32 -36.30 Z" fill="#fffce0" stroke="#f6e46a" stroke-width="1.2"/>
</g></g>

<!-- red LED -->
<g filter="url(#soft)"><g transform="translate(877 582.6) rotate(22.7)">
  <path d="M-21.00 -20.35 A21.00 24.00 0 0 1 21.00 -20.35 L21.00 38.35 Q21.00 44.35 15.00 44.35 L-15.00 44.35 Q-21.00 44.35 -21.00 38.35 Z" fill="#e7005a" stroke="#5a0026" stroke-width="2.1"/>
  <path d="M3.19 -38.59 C3.96 -37.52 6.69 -34.24 7.78 -32.13 C8.87 -30.02 9.32 -30.81 9.73 -25.94 C10.13 -21.07 10.16 -10.70 10.20 -2.92 C10.25 4.87 10.15 15.13 10.00 20.77 C9.86 26.41 10.17 28.36 9.34 30.93 C8.51 33.51 7.38 34.67 5.03 36.23 C2.68 37.78 -3.16 39.53 -4.78 40.25 C-6.40 40.97 -6.68 40.56 -4.72 40.55 C-2.76 40.53 3.71 41.39 6.97 40.17 C10.24 38.96 13.26 36.46 14.86 33.27 C16.47 30.08 16.27 27.09 16.60 21.03 C16.92 14.97 17.15 4.86 16.80 -3.08 C16.44 -11.03 15.57 -21.53 14.47 -26.66 C13.38 -31.79 12.07 -31.84 10.22 -33.87 C8.38 -35.89 4.54 -37.98 3.41 -38.81 Z" fill="#ffeef6" stroke="#f47fb2" stroke-width="1.2"/>
</g></g>

<!-- CE mark -->
<g fill="none" stroke="#1b191a" stroke-width="10.7" filter="url(#soft)">
  <circle cx="503.5" cy="228.1" r="30.85" clip-path="url(#cclip)"/>
  <circle cx="565.8" cy="228.1" r="30.85" clip-path="url(#eclip)"/>
  <line x1="540" y1="228" x2="562.6" y2="228" stroke-width="9.8"/>
</g>

<!-- texts -->
<g filter="url(#soft)">
<text class="serif" x="15.5" y="209.4" textLength="177.8" lengthAdjust="spacingAndGlyphs">Trafo 14-16 V</text>
<text class="serif" x="15.5" y="240.6" textLength="279.5" lengthAdjust="spacingAndGlyphs">Power pack AC or DC</text>
<text class="serif" x="15.5" y="271.8" textLength="95.5" lengthAdjust="spacingAndGlyphs">Transfo</text>
<text class="serif" x="589.5" y="233.2" textLength="195.5" lengthAdjust="spacingAndGlyphs">Nennspannung:</text>
<text class="serif" x="589.5" y="264.9" textLength="147" lengthAdjust="spacingAndGlyphs">Nennstrom:</text>
<text class="serif" x="793.6" y="233.2" textLength="184.4" lengthAdjust="spacingAndGlyphs">14 - 16 V <tspan dy="2.6">~</tspan><tspan dy="-2.6"> / =</tspan></text>
<text class="serif" x="794.5" y="264.9" textLength="98.2" lengthAdjust="spacingAndGlyphs">100 mA</text>
</g>
</svg>
</body></html>
